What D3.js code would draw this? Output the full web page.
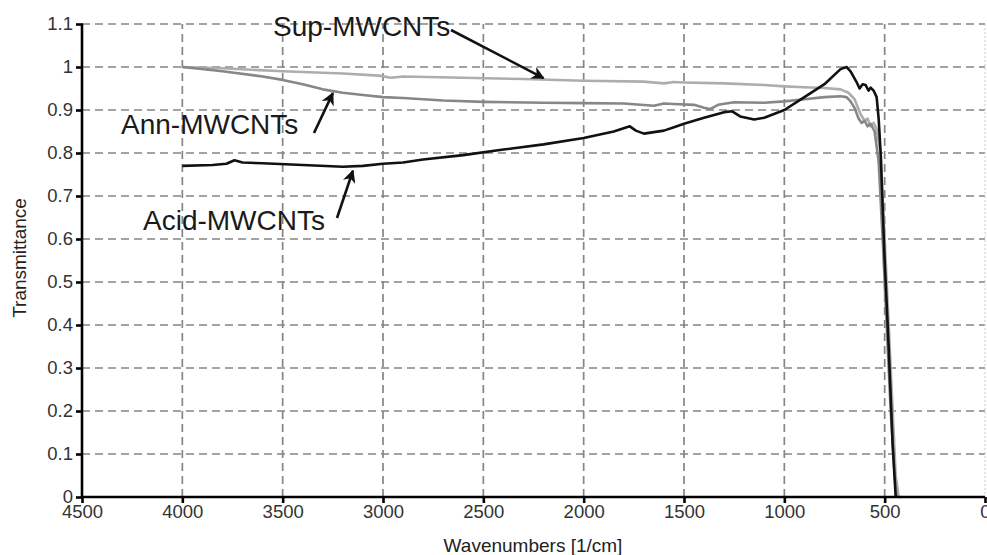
<!DOCTYPE html>
<html>
<head>
<meta charset="utf-8">
<script src="https://cdn.jsdelivr.net/npm/d3@7"></script>
<style>
  html, body { margin: 0; padding: 0; background: #fff; }
  svg { display: block; font-family: "Liberation Sans", Arial, sans-serif; }
</style>
</head>
<body>
<svg id="chart" width="987" height="555"></svg>
<script>
// FTIR transmittance spectra of the three MWCNT samples
const xTicks = [4500, 4000, 3500, 3000, 2500, 2000, 1500, 1000, 500, 0];
const yTicks = [0, 0.1, 0.2, 0.3, 0.4, 0.5, 0.6, 0.7, 0.8, 0.9, 1, 1.1];

const supWave = [4000, 3800, 3500, 3200, 3020, 2960, 2900, 2600, 2300, 2000, 1700, 1600, 1550, 1500, 1300, 1100, 1000, 900, 800, 720, 680, 650, 620, 600, 585, 570, 555, 540, 520, 500, 480, 460, 445, 430, 415];
const supT    = [1.0, 0.997, 0.99, 0.985, 0.98, 0.975, 0.978, 0.975, 0.972, 0.968, 0.966, 0.962, 0.965, 0.964, 0.962, 0.958, 0.955, 0.953, 0.951, 0.948, 0.94, 0.925, 0.89, 0.875, 0.88, 0.862, 0.87, 0.855, 0.8, 0.6, 0.4, 0.2, 0.05, 0.0, 0.0];

const annWave = [4000, 3800, 3600, 3500, 3400, 3300, 3200, 3100, 3000, 2900, 2700, 2500, 2200, 2000, 1800, 1650, 1600, 1550, 1450, 1400, 1370, 1330, 1250, 1100, 1000, 900, 800, 720, 690, 670, 650, 630, 615, 600, 585, 570, 550, 530, 510, 490, 470, 450, 440];
const annT    = [1.0, 0.99, 0.978, 0.97, 0.96, 0.948, 0.94, 0.935, 0.93, 0.928, 0.922, 0.919, 0.917, 0.916, 0.915, 0.91, 0.915, 0.914, 0.912, 0.905, 0.902, 0.912, 0.918, 0.917, 0.92, 0.925, 0.93, 0.932, 0.93, 0.92, 0.905, 0.88, 0.87, 0.875, 0.862, 0.868, 0.85, 0.78, 0.6, 0.4, 0.2, 0.05, 0.0];

const acidWave = [4000, 3850, 3780, 3740, 3700, 3600, 3400, 3200, 3100, 3000, 2900, 2800, 2600, 2400, 2200, 2000, 1850, 1770, 1740, 1700, 1600, 1550, 1500, 1400, 1300, 1260, 1220, 1150, 1100, 1000, 900, 800, 720, 690, 670, 640, 625, 610, 595, 580, 570, 555, 540, 530, 520, 500, 480, 460, 445];
const acidT    = [0.77, 0.772, 0.775, 0.783, 0.778, 0.776, 0.772, 0.768, 0.77, 0.775, 0.778, 0.785, 0.795, 0.808, 0.82, 0.835, 0.85, 0.862, 0.852, 0.845, 0.852, 0.86, 0.868, 0.882, 0.895, 0.897, 0.885, 0.878, 0.882, 0.9, 0.93, 0.96, 0.995, 1.0, 0.99, 0.965, 0.95, 0.96, 0.958, 0.945, 0.952, 0.945, 0.93, 0.88, 0.8, 0.55, 0.35, 0.12, 0.0];

const seriesNames  = ["Sup-MWCNTs", "Ann-MWCNTs", "Acid-MWCNTs"];
const seriesColors = ["#adadad", "#878787", "#111111"];

const svg = d3.select("#chart");
const plotL = 82, plotR = 985, plotT = 24, plotB = 497;

const x = d3.scaleLinear().domain([4500, 0]).range([plotL, plotR]);
const y = d3.scaleLinear().domain([0, 1.1]).range([plotB, plotT]);

// dashed grid
const grid = svg.append("g").attr("stroke", "#858585").attr("stroke-width", 1.7)
  .attr("stroke-dasharray", "8,5").attr("fill", "none");
grid.selectAll("line.h").data(yTicks.filter(d => d > 0)).join("line").attr("class", "h")
  .attr("x1", plotL).attr("x2", plotR).attr("y1", d => y(d)).attr("y2", d => y(d));
grid.selectAll("line.v").data(xTicks.filter(d => d < 4500 && d > 0)).join("line").attr("class", "v")
  .attr("y1", plotB).attr("y2", plotT).attr("x1", d => x(d)).attr("x2", d => x(d));
svg.append("line").attr("x1", x(0)).attr("x2", x(0)).attr("y1", plotT).attr("y2", plotB)
  .attr("stroke", "#c8c8c8").attr("stroke-width", 1).attr("stroke-dasharray", "2,2");

// spectra
const line = d3.line().x(d => x(d[0])).y(d => y(d[1]));
const data = [
  d3.zip(supWave, supT),
  d3.zip(annWave, annT),
  d3.zip(acidWave, acidT)
];
svg.append("g").selectAll("path").data(data).join("path")
  .attr("d", line).attr("fill", "none")
  .attr("stroke", (d, i) => seriesColors[i])
  .attr("stroke-width", 2.6).attr("stroke-linejoin", "round");

// axes
const xAxis = d3.axisBottom(x).tickValues(xTicks).tickSize(6).tickPadding(2).tickFormat(d3.format("d"));
const yAxis = d3.axisLeft(y).tickValues(yTicks).tickSize(6).tickPadding(3).tickFormat(d => d3.format("~g")(d));

const gx = svg.append("g").attr("transform", `translate(0,${plotB})`).call(xAxis);
const gy = svg.append("g").attr("transform", `translate(${plotL},0)`).call(yAxis);
[gx, gy].forEach(g => {
  g.select(".domain").attr("stroke", "#000").attr("stroke-width", 2.6);
  g.selectAll(".tick line").attr("stroke", "#000").attr("stroke-width", 2.6);
  g.selectAll(".tick text").attr("fill", "#333").attr("font-size", 18.5)
    .attr("font-family", "Liberation Sans, Arial, sans-serif");
});
gx.select(".domain").attr("d", `M${plotL},0H${plotR}`);
gy.select(".domain").attr("d", `M0,${plotB}V${plotT}`);
gy.selectAll(".tick line").attr("x1", -6).attr("x2", 1);

// axis titles
svg.append("text").attr("x", 533).attr("y", 552)
  .attr("text-anchor", "middle").attr("font-size", 19).attr("fill", "#222")
  .text("Wavenumbers [1/cm]");
svg.append("text").attr("transform", "translate(26,258) rotate(-90)")
  .attr("text-anchor", "middle").attr("font-size", 19).attr("fill", "#222")
  .text("Transmittance");

// annotations with arrows
svg.append("defs").append("marker").attr("id", "head")
  .attr("viewBox", "0 0 10 10").attr("refX", 9).attr("refY", 5)
  .attr("markerWidth", 5).attr("markerHeight", 5).attr("orient", "auto")
  .append("path").attr("d", "M0,0L10,5L0,10L3,5Z").attr("fill", "#111");

const labels = [
  { text: seriesNames[0], tx: 273, ty: 36, from: [451, 30], to: [x(2200), y(0.972) - 1] },
  { text: seriesNames[1], tx: 121, ty: 134, from: [314, 133], to: [x(3250), y(0.944) + 2] },
  { text: seriesNames[2], tx: 143, ty: 230, from: [337, 218], to: [x(3150), y(0.768) + 4] }
];
const ann = svg.append("g");
ann.selectAll("text").data(labels).join("text")
  .attr("x", d => d.tx).attr("y", d => d.ty)
  .attr("font-size", 28).attr("fill", "#1a1a1a").text(d => d.text);
ann.selectAll("line").data(labels).join("line")
  .attr("x1", d => d.from[0]).attr("y1", d => d.from[1])
  .attr("x2", d => d.to[0]).attr("y2", d => d.to[1])
  .attr("stroke", "#111").attr("stroke-width", 2.6).attr("marker-end", "url(#head)");
</script>
</body>
</html>
